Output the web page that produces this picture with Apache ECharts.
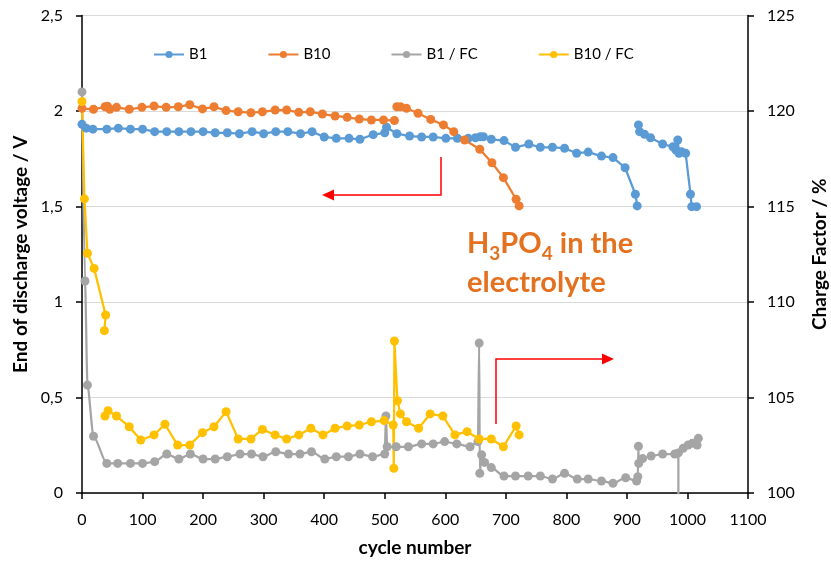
<!DOCTYPE html>
<html>
<head>
<meta charset="utf-8">
<script src="https://cdn.jsdelivr.net/npm/echarts@6/dist/echarts.min.js"></script>
<style>
  html, body { margin: 0; padding: 0; background: #fff; }
  #chart { width: 831px; height: 562px; }
</style>
</head>
<body>
<div id="chart"></div>
<script>
// cycle number vs end of discharge voltage (V), left axis
const b1 = [
  [0,1.93],[7,1.91],[18,1.905],[41,1.905],[60,1.91],[80,1.905],[100,1.905],[120,1.892],[140,1.892],
  [160,1.892],[180,1.892],[200,1.892],[220,1.886],[240,1.886],[260,1.881],[281,1.892],[300,1.881],
  [320,1.892],[340,1.892],[361,1.881],[380,1.892],[400,1.864],[420,1.857],[441,1.857],[459,1.852],
  [481,1.876],[500,1.886],[503,1.915],[520,1.881],[541,1.869],[561,1.864],[580,1.864],[601,1.857],
  [620,1.857],[638,1.857],[650,1.86],[658,1.865],[663,1.865],[676,1.852],[697,1.845],[716,1.81],
  [738,1.827],[757,1.81],[777,1.81],[797,1.805],[817,1.779],[836,1.785],[858,1.764],[877,1.756],
  [897,1.703],[914,1.564],[917,1.503],
  [918,null],
  [919,1.927],[921,1.892],[929,1.878],[939,1.86],[959,1.827],[976,1.813],[981,1.796],[984,1.848],
  [986,1.779],[990,1.787],[997,1.779],[1005,1.564],[1007,1.499],[1015,1.499]
];
const b10 = [
  [0,2.014],[19,2.009],[38,2.022],[42,2.025],[46,2.009],[57,2.019],[78,2.009],[99,2.019],[119,2.026],
  [139,2.019],[159,2.022],[178,2.033],[199,2.011],[218,2.022],[238,2.002],[258,1.996],[279,1.991],
  [298,1.996],[319,2.005],[338,2.005],[358,1.993],[377,1.996],[397,1.984],[418,1.974],[438,1.967],
  [458,1.958],[478,1.953],[498,1.953],[516,1.95],
  [517,null],
  [520,2.022],[526,2.022],[536,2.014],[555,1.988],[576,1.956],[597,1.927],[614,1.892],[632,1.848],
  [657,1.80],[677,1.729],[696,1.651],[717,1.538],[722,1.503]
];
// charge factor (%), right axis
const b1fc = [
  [0,121.0],[5,111.1],[9,105.65],[19,102.97],[41,101.55],[59,101.55],[80,101.55],[100,101.55],
  [120,101.64],[140,102.04],[160,101.78],[179,102.04],[200,101.78],[220,101.78],[240,101.9],
  [261,102.04],[280,102.04],[299,101.9],[320,102.16],[341,102.04],[360,102.04],[379,102.16],
  [401,101.78],[420,101.9],[440,101.9],[459,102.04],[480,101.9],[500,102.04],[502,104.03],
  [504,102.42],[519,102.42],[539,102.42],[561,102.57],[580,102.57],[599,102.69],[619,102.57],
  [641,102.42],[654,102.69],[656,107.85],[657,101.03],[660,102.0],[665,101.6],[676,101.33],
  [697,100.89],[716,100.89],[737,100.89],[757,100.89],[777,100.73],[797,101.03],[818,100.73],
  [836,100.73],[858,100.63],[877,100.51],[898,100.8],[916,100.63],[918,100.85],[919,102.45],
  [919.5,101.55],[926,101.8],[940,101.94],[959,102.04],[979,102.04],[985,102.1],[986,0],
  [987,null],
  [993,102.34],[1001,102.51],[1008,102.6],[1016,102.51],[1018,102.86]
];
const b10fc = [
  [0,120.5],[4,115.4],[9,112.55],[20,111.76],[39,109.32],[37,108.5],
  [38,null],
  [38,104.03],[43,104.31],[57,104.03],[78,103.47],[97,102.77],[119,103.04],[137,103.6],[158,102.51],
  [178,102.51],[199,103.16],[218,103.47],[238,104.26],[258,102.83],[279,102.83],[298,103.33],
  [319,103.04],[338,102.83],[358,103.04],[378,103.39],[398,103.04],[418,103.39],[438,103.51],
  [458,103.56],[478,103.73],[499,103.79],[514,103.56],[515,101.29],[516,107.96],[521,104.83],
  [526,104.14],[536,103.73],[556,103.39],[575,104.14],[596,104.03],[616,103.04],[636,103.21],
  [656,102.83],[676,102.83],[696,102.42],[717,103.51],[722,103.04]
];

const FONT = 'Lato';
const chart = echarts.init(document.getElementById('chart'), null, { renderer: 'canvas' });

function lineSeries(name, data, color, yIdx, extra) {
  return Object.assign({
    name, type: 'line', data, yAxisIndex: yIdx,
    symbol: 'circle', symbolSize: 9, showSymbol: true,
    itemStyle: { color },
    lineStyle: { color, width: 2.25 },
    connectNulls: false, clip: true, animation: false
  }, extra || {});
}

const axisName = { fontFamily: FONT, fontSize: 19, fontWeight: 'bold', color: '#000' };
const axisLbl = { fontFamily: FONT, fontSize: 16, color: '#000' };

chart.setOption({
  animation: false,
  backgroundColor: '#fff',
  textStyle: { fontFamily: FONT },
  grid: { left: 82, right: 83, top: 15.5, bottom: 69, containLabel: false, outerBoundsMode: 'none' },
  legend: {
    top: 42, left: 148, itemGap: 60, itemWidth: 30, itemHeight: 9,
    textStyle: { fontFamily: FONT, fontSize: 15, color: '#000' },
    data: ['B1', 'B10', 'B1 / FC', 'B10 / FC']
  },
  xAxis: {
    type: 'value', min: 0, max: 1100, interval: 100,
    name: 'cycle number', nameLocation: 'middle', nameGap: 45,
    nameTextStyle: axisName,
    axisLine: { show: true, lineStyle: { color: '#000', width: 1.5 } },
    axisTick: { show: true, inside: false, length: 6, lineStyle: { color: '#000', width: 1.5 } },
    axisLabel: Object.assign({ margin: 19, formatter: v => String(v) }, axisLbl),
    splitLine: { show: false }
  },
  yAxis: [{
    type: 'value', min: 0, max: 2.5, interval: 0.5, position: 'left',
    name: 'End of discharge voltage / V', nameLocation: 'middle', nameGap: 48, nameRotate: 90,
    nameTextStyle: axisName,
    axisLine: { show: true, lineStyle: { color: '#000', width: 1.5 } },
    axisTick: { show: true, inside: false, length: 6, lineStyle: { color: '#000', width: 1.5 } },
    axisLabel: Object.assign({ margin: 19, formatter: v => String(v).replace('.', ',') }, axisLbl),
    splitLine: { show: true, lineStyle: { color: '#d9d9d9', width: 1 } }
  }, {
    type: 'value', min: 100, max: 125, interval: 5, position: 'right',
    name: 'Charge Factor / %', nameLocation: 'middle', nameGap: 62, nameRotate: 90,
    nameTextStyle: axisName,
    axisLine: { show: true, lineStyle: { color: '#000', width: 1.5 } },
    axisTick: { show: true, inside: false, length: 6, lineStyle: { color: '#000', width: 1.5 } },
    axisLabel: Object.assign({ margin: 19 }, axisLbl),
    splitLine: { show: false }
  }],
  series: [
    lineSeries('B1', b1, '#5B9BD5', 0),
    lineSeries('B10', b10, '#ED7D31', 0),
    lineSeries('B1 / FC', b1fc, '#A5A5A5', 1, { smooth: 0.25, smoothMonotone: 'x' }),
    lineSeries('B10 / FC', b10fc, '#FFC000', 1)
  ],
  graphic: [
    { type: 'polyline', shape: { points: [[441, 157], [441, 195], [332, 195]] },
      style: { stroke: '#FF0000', lineWidth: 1.5, fill: null }, z: 100 },
    { type: 'polygon', shape: { points: [[322, 195], [334, 189.5], [334, 200.5]] },
      style: { fill: '#FF0000' }, z: 100 },
    { type: 'polyline', shape: { points: [[496, 424], [496, 359], [603, 359]] },
      style: { stroke: '#FF0000', lineWidth: 1.5, fill: null }, z: 100 },
    { type: 'polygon', shape: { points: [[614, 359], [602, 353.5], [602, 364.5]] },
      style: { fill: '#FF0000' }, z: 100 },
    { type: 'text', left: 467, top: 229, z: 100,
      style: {
        text: '{n|H}{s|3}{n|PO}{s|4}{n| in the}\n{n|electrolyte}',
        rich: {
          n: { fontFamily: FONT, fontSize: 29, fontWeight: 'bold', fill: '#E4711F', lineHeight: 39 },
          s: { fontFamily: FONT, fontSize: 19, fontWeight: 'bold', fill: '#E4711F', lineHeight: 39,
               verticalAlign: 'bottom', padding: [12, 0, 0, 0] }
        }
      }
    }
  ]
});
</script>
</body>
</html>
